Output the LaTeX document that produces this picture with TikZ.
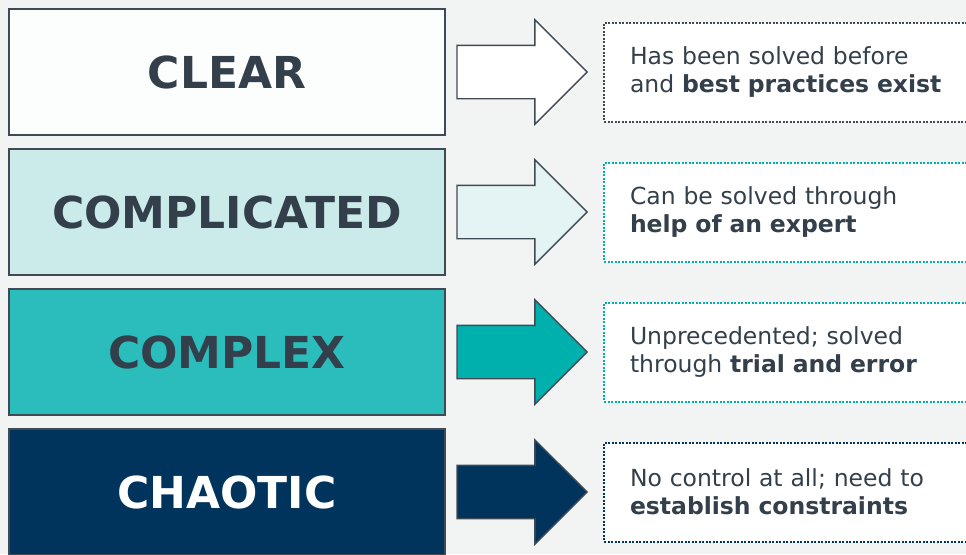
\documentclass[tikz,border=0pt]{standalone}
\usepackage{fontspec}
\setmainfont{DejaVu Sans}
\usetikzlibrary{positioning,shapes.arrows}

\definecolor{pagebg}{HTML}{F2F4F4}
\definecolor{ink}{HTML}{333F4A}
\definecolor{boxline}{HTML}{404A54}
\definecolor{clearfill}{HTML}{FCFEFE}
\definecolor{complfill}{HTML}{CBEBEB}
\definecolor{complexfill}{HTML}{2BBCBC}
\definecolor{chaosfill}{HTML}{00345C}
\definecolor{paletint}{HTML}{E4F4F4}
\definecolor{teal}{HTML}{00B0AC}
\definecolor{dotgrey}{HTML}{3F4A55}

\begin{document}
\begin{tikzpicture}[x=1pt,y=1pt,
		every node/.style={inner sep=0pt},
		domainbox/.style={draw=boxline,line width=2.5pt,minimum width=436pt,
			minimum height=126pt,text=ink,
			font=\fontsize{44}{50}\selectfont\bfseries},
		pointer/.style={single arrow,draw=boxline,line width=1.4pt,
			inner ysep=26pt,minimum height=130pt,
			single arrow head extend=25.5pt,anchor=tip},
		notebox/.style={fill=white,line width=2pt,dash pattern=on 2pt off 1.5pt,
			anchor=west,text width=360pt,inner xsep=26pt,minimum height=99pt,
			align=left,text=ink,font=\fontsize{23.5}{28}\selectfont},
	]
	\useasboundingbox (0,0) rectangle (966,-554);
	\fill[pagebg] (0,0) rectangle (966,-554);

	% the four domains
	\node[domainbox,fill=clearfill] (clear) at (227,-72) {CLEAR};
	\node[domainbox,fill=complfill] (complicated) at (227,-212) {COMPLICATED};
	\node[domainbox,fill=complexfill] (complex) at (227,-352) {COMPLEX};
	\node[domainbox,fill=chaosfill,text=white] (chaotic) at (227,-492) {CHAOTIC};

	% arrows
	\node[pointer,fill=white] (toclear) at (588,-72) {};
	\node[pointer,fill=paletint] (tocomplicated) at (588,-212) {};
	\node[pointer,fill=teal] (tocomplex) at (588,-352) {};
	\node[pointer,fill=chaosfill] (tochaotic) at (588,-492) {};

	% descriptions
	\node[notebox,draw=dotgrey,right=15pt of toclear.tip] (clearnote)
		{Has been solved before\\and \textbf{best practices exist}};
	\node[notebox,draw=teal,right=15pt of tocomplicated.tip] (complicatednote)
		{Can be solved through\\\textbf{help of an expert}};
	\node[notebox,draw=teal,right=15pt of tocomplex.tip] (complexnote)
		{Unprecedented; solved\\through \textbf{trial and error}};
	\node[notebox,draw=chaosfill,right=15pt of tochaotic.tip] (chaoticnote)
		{No control at all; need to\\\textbf{establish constraints}};
\end{tikzpicture}
\end{document}
